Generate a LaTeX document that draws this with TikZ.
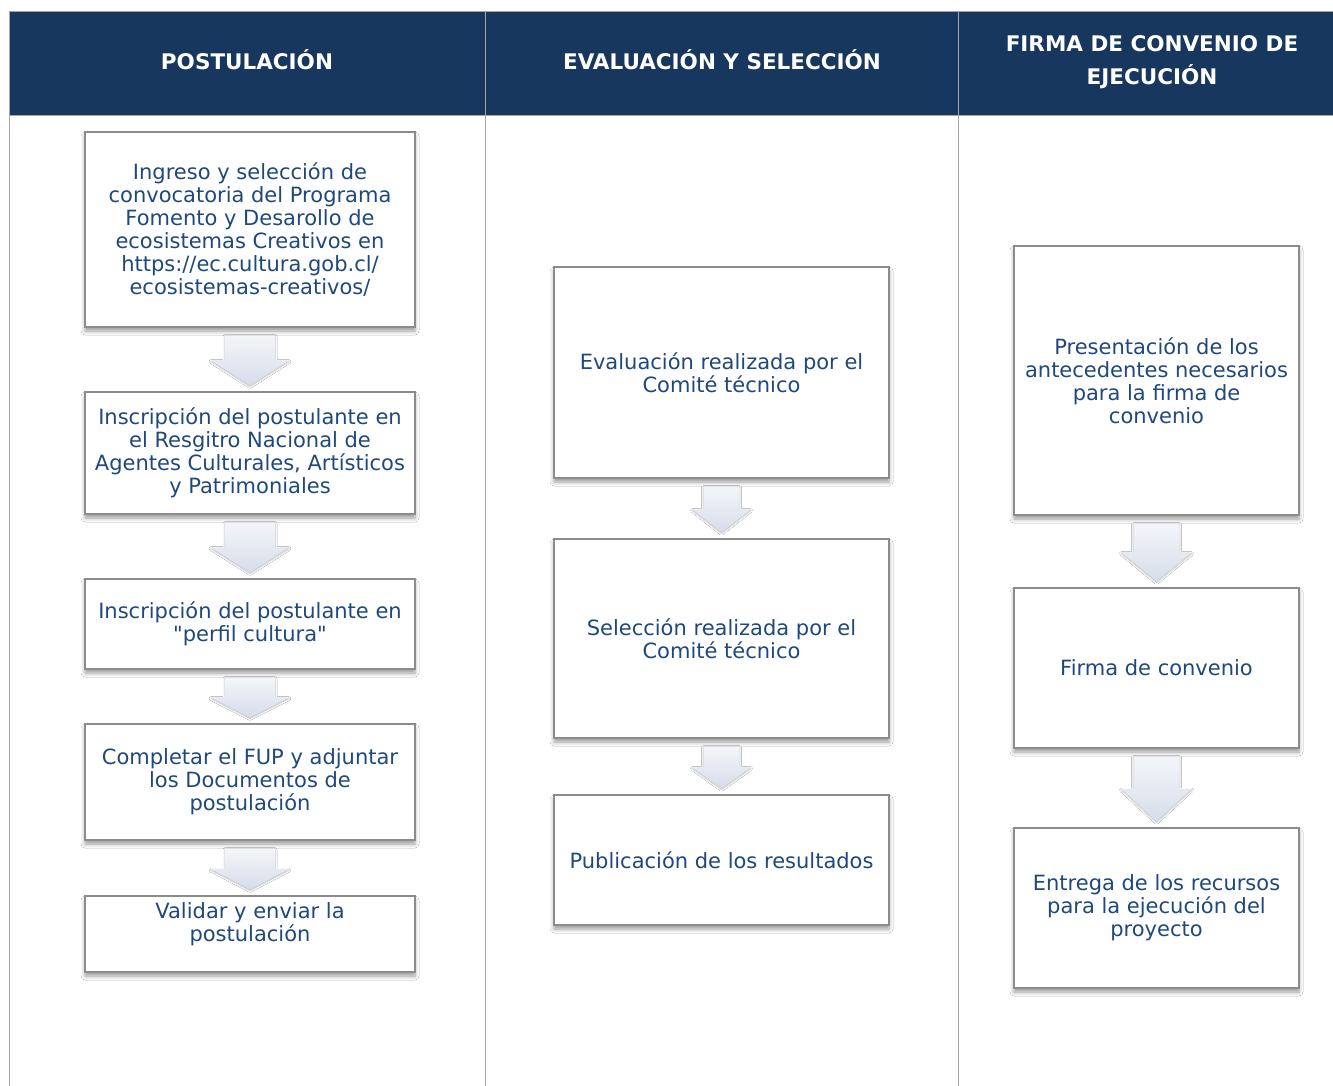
\documentclass[tikz,border=0pt]{standalone}
\usepackage{fontspec}
\setmainfont{DejaVu Sans}
\usetikzlibrary{calc,shadows,shadows.blur}
\definecolor{hdr}{HTML}{17375E}
\definecolor{txt}{HTML}{1F497D}
\definecolor{rulegray}{HTML}{A6A6A6}
\definecolor{boxgray}{HTML}{8C8C8C}
\definecolor{arrtop}{HTML}{F3F5F9}
\definecolor{arrbot}{HTML}{D6DDEA}
\newcommand\blockarr[4]{%
  \path[arr] let \p1=($(#1.south)+(0,-8pt)$), \p2=($(#2.north)+(0,6pt)$),
      \n1={0.5*(\y1-\y2)} in
    (\x1-#3pt,\y1) -- (\x1+#3pt,\y1) -- (\x1+#3pt,{\y2+\n1*1pt}) --
    (\x1+#4pt,{\y2+\n1*1pt}) -- (\x1,\y2) -- (\x1-#4pt,{\y2+\n1*1pt}) --
    (\x1-#3pt,{\y2+\n1*1pt}) -- cycle;}
\begin{document}
\begin{tikzpicture}[x=1pt,y=-1pt,
  box/.style={draw=boxgray, line width=1.3pt, fill=white, align=center,
    text=txt, font=\fontsize{21}{23}\selectfont, inner sep=0pt,
    blur shadow={shadow xshift=0pt, shadow yshift=-4pt, shadow blur radius=4pt, shadow opacity=40}},
  arr/.style={top color=arrtop, bottom color=arrbot, draw=none,
    blur shadow={shadow xshift=0pt, shadow yshift=-1pt, shadow blur radius=2pt, shadow opacity=30}},
  hdrtext/.style={text=white, align=center, font=\bfseries\fontsize{21.5}{33}\selectfont},
  rule/.style={draw=rulegray, line width=1pt},
  col1/.style={box, minimum width=330pt},
  col2/.style={box, minimum width=335pt},
  col3/.style={box, minimum width=285pt}]
\useasboundingbox (0,0) rectangle (1333,1086);
\fill[white] (0,0) rectangle (1333,1086);
% header
\fill[hdr] (9.5,11.5) rectangle (1333,115);
\draw[rule] (9.5,11.5) -- (1333,11.5);
\draw[rule] (9.5,115.5) -- (1333,115.5);
\draw[rule] (9.5,11) -- (9.5,1086);
\draw[rule] (485.5,11) -- (485.5,1086);
\draw[rule] (958.5,11) -- (958.5,1086);
\node[hdrtext] (h1) at (247,60) {POSTULACIÓN};
\node[hdrtext] (h2) at (722,60) {EVALUACIÓN Y SELECCIÓN};
\node[hdrtext] (h3) at (1152,62.5) {FIRMA DE CONVENIO DE\\EJECUCIÓN};
% column 1
\node[col1, minimum height=195pt] (p1) at (250,229.5) {Ingreso y selección de\\convocatoria del Programa\\Fomento y Desarollo de\\ecosistemas Creativos en\\https://ec.cultura.gob.cl/\\ecosistemas-creativos/};
\node[col1, minimum height=122pt] (p2) at (250,453) {Inscripción del postulante en\\el Resgitro Nacional de\\Agentes Culturales, Artísticos\\y Patrimoniales};
\node[col1, minimum height=90pt] (p3) at (250,624) {Inscripción del postulante en\\\textquotedbl perfil cultura\textquotedbl};
\node[col1, minimum height=116pt] (p4) at (250,782) {Completar el FUP y adjuntar\\los Documentos de\\postulación};
\node[col1, minimum height=76pt] (p5) at (250,934) {Validar y enviar la\\postulación\\\mbox{}};
% column 2
\node[col2, minimum height=211pt] (e1) at (721.5,372.5) {Evaluación realizada por el\\Comité técnico};
\node[col2, minimum height=199pt] (e2) at (721.5,638.5) {Selección realizada por el\\Comité técnico};
\node[col2, minimum height=130pt] (e3) at (721.5,860) {Publicación de los resultados};
% column 3
\node[col3, minimum height=269pt] (f1) at (1156.5,380.5) {Presentación de los\\antecedentes necesarios\\para la firma de\\convenio};
\node[col3, minimum height=160pt] (f2) at (1156.5,668) {Firma de convenio};
\node[col3, minimum height=160pt] (f3) at (1156.5,908) {Entrega de los recursos\\para la ejecución del\\proyecto};
% arrows
\blockarr{p1}{p2}{25}{39}
\blockarr{p2}{p3}{25}{39}
\blockarr{p3}{p4}{25}{39}
\blockarr{p4}{p5}{25}{39}
\blockarr{e1}{e2}{18}{29}
\blockarr{e2}{e3}{18}{29}
\blockarr{f1}{f2}{23}{35}
\blockarr{f2}{f3}{23}{35}
\end{tikzpicture}
\end{document}
